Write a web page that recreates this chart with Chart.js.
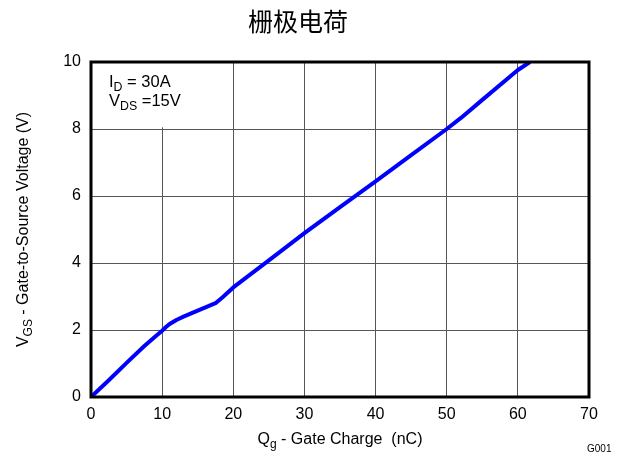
<!DOCTYPE html>
<html>
<head>
<meta charset="utf-8">
<script src="https://cdn.jsdelivr.net/npm/chart.js@4"></script>
<style>
  body { margin: 0; background: #fff; }
</style>
</head>
<body>
<canvas id="chart" width="623" height="457"></canvas>
<script>
// gate charge curve, Qg (nC) vs VGS (V)
const chargeNC = [0, 2.5, 5, 7.5, 9, 10, 10.5, 11, 12, 13, 14, 15, 16, 17.5, 18.5, 20, 25, 30, 35, 40, 45, 50, 52, 55, 60, 61.7];
const vgsVolts = [0, 0.5, 1.02, 1.52, 1.8, 1.98, 2.08, 2.17, 2.3, 2.4, 2.49, 2.58, 2.67, 2.8, 2.98, 3.27, 4.08, 4.89, 5.67, 6.44, 7.22, 8.0, 8.33, 8.87, 9.76, 10];
const xTicks = [0, 10, 20, 30, 40, 50, 60, 70];
const yTicks = [0, 2, 4, 6, 8, 10];

const titleText = "栅极电荷";
const noteLines = [
  [["I", false], ["D", true], [" = 30A", false]],
  [["V", false], ["DS", true], [" =15V", false]]
];
const xTitle = [["Q", false], ["g", true], [" - Gate Charge  (nC)", false]];
const yTitle = [["V", false], ["GS", true], [" - Gate-to-Source Voltage (V)", false]];

const FONT = "Arial, 'Liberation Sans', sans-serif";

// measure / draw text runs with subscripts
function runWidth(ctx, parts, size) {
  let w = 0;
  parts.forEach(([t, sub]) => {
    ctx.font = (sub ? size * 0.75 : size) + "px " + FONT;
    w += ctx.measureText(t).width;
  });
  return w;
}
function drawRun(ctx, parts, x, y, size) {
  parts.forEach(([t, sub]) => {
    ctx.font = (sub ? size * 0.75 : size) + "px " + FONT;
    ctx.fillText(t, x, sub ? y + size * 0.25 : y);
    x += ctx.measureText(t).width;
  });
}

const textPlugin = {
  id: "texts",
  beforeDatasetsDraw(chart) {
    // white box behind the test conditions
    const { ctx, scales: { x, y } } = chart;
    ctx.save();
    ctx.fillStyle = "#fff";
    const x0 = x.getPixelForValue(0), x1 = x.getPixelForValue(14.8);
    const y0 = y.getPixelForValue(10), y1 = y.getPixelForValue(8.05);
    ctx.fillRect(x0, y0, x1 - x0, y1 - y0);
    ctx.restore();
  },
  afterDraw(chart) {
    const { ctx, chartArea: a } = chart;
    ctx.save();
    ctx.fillStyle = "#000";
    ctx.textBaseline = "alphabetic";
    ctx.textAlign = "left";

    // title
    ctx.font = "25px 'Noto Sans CJK SC', sans-serif";
    ctx.textAlign = "center";
    ctx.fillText(titleText, 298, 31);
    ctx.textAlign = "left";

    // test conditions
    drawRun(ctx, noteLines[0], a.left + 18, a.top + 25, 16.5);
    drawRun(ctx, noteLines[1], a.left + 18, a.top + 44, 16.5);

    // x axis title
    const xw = runWidth(ctx, xTitle, 16);
    drawRun(ctx, xTitle, (a.left + a.right) / 2 - xw / 2, 444, 16);

    // y axis title, rotated
    const yw = runWidth(ctx, yTitle, 16);
    ctx.translate(28, (a.top + a.bottom) / 2);
    ctx.rotate(-Math.PI / 2);
    drawRun(ctx, yTitle, -yw / 2, 0, 16);
    ctx.setTransform(1, 0, 0, 1, 0, 0);

    // figure id
    ctx.font = "10px " + FONT;
    ctx.fillText("G001", 587, 452);

    // heavy frame
    ctx.strokeStyle = "#000";
    ctx.lineWidth = 3;
    ctx.strokeRect(a.left, a.top, a.right - a.left, a.bottom - a.top);
    ctx.restore();
  }
};

new Chart(document.getElementById("chart"), {
  type: "line",
  data: {
    datasets: [{
      data: chargeNC.map((q, i) => ({ x: q, y: vgsVolts[i] })),
      borderColor: "#0000ff",
      borderWidth: 4,
      pointRadius: 0,
      tension: 0,
      borderJoinStyle: "round",
      fill: false
    }]
  },
  options: {
    responsive: false,
    animation: false,
    devicePixelRatio: 1,
    layout: { padding: { left: 0, top: 62, right: 34, bottom: 0 } },
    plugins: { legend: { display: false }, tooltip: { enabled: false } },
    scales: {
      x: {
        type: "linear",
        min: 0, max: 70,
        afterBuildTicks: s => { s.ticks = xTicks.map(v => ({ value: v })); },
        afterFit: s => { s.height = 60; },
        grid: { color: "#555", lineWidth: 1, drawTicks: false },
        border: { display: false },
        ticks: { color: "#000", font: { size: 16, family: FONT }, padding: 8, maxRotation: 0 }
      },
      y: {
        min: 0, max: 10,
        afterBuildTicks: s => { s.ticks = yTicks.map(v => ({ value: v })); },
        afterFit: s => { s.width = 91; },
        grid: { color: "#555", lineWidth: 1, drawTicks: false },
        border: { display: false },
        ticks: { color: "#000", font: { size: 16, family: FONT }, padding: 10 }
      }
    }
  },
  plugins: [textPlugin]
});
</script>
</body>
</html>
